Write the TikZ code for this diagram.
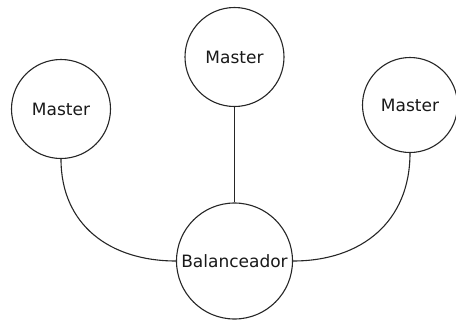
\documentclass[tikz,border=0pt]{standalone}
\usepackage{fontspec}
\setmainfont{DejaVu Sans}
\begin{document}
\begin{tikzpicture}[x=1pt,y=-1pt,
  unit/.style={circle, draw=black!85, line width=1.1pt, fill=white, inner sep=0pt,
    font=\fontsize{17}{20}\selectfont, text=black!90},
  link/.style={draw=black!85, line width=1.1pt}]
  \useasboundingbox (0,0) rectangle (456,322);
  \node[unit, minimum size=99pt] (m1) at (61,109) {Master};
  \node[unit, minimum size=99pt] (m2) at (234.5,57) {Master};
  \node[unit, minimum size=95pt] (m3) at (410,105) {Master};
  \node[unit, minimum size=116pt] (bal) at (234.5,261) {Balanceador};
  \draw[link] (m2.south) -- (bal.north);
  \draw[link] (m1.south) to[out=-90, in=180, looseness=1.1] (bal.west);
  \draw[link] (bal.east) to[out=0, in=-90, looseness=1.1] (m3.south);
\end{tikzpicture}
\end{document}
